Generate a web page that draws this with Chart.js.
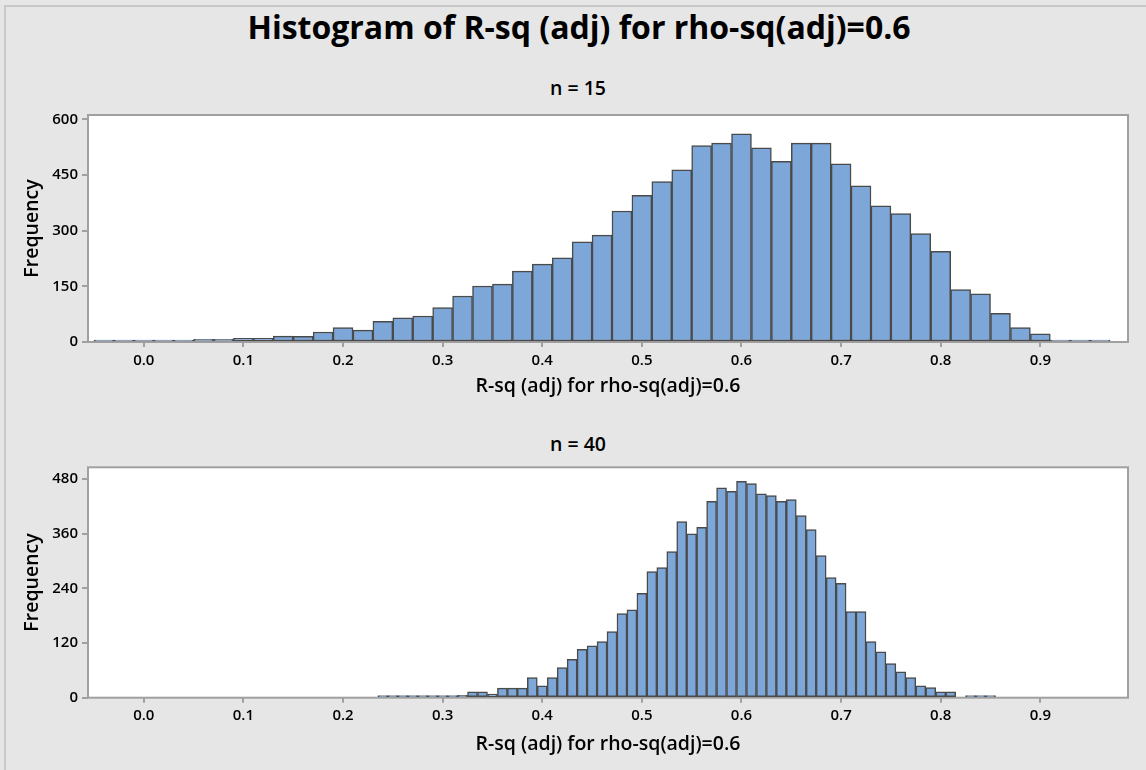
<!DOCTYPE html>
<html lang="en">
<head>
  <meta charset="UTF-8" />
  <title>Histogram of R-sq (adj)</title>
  <script src="https://cdn.jsdelivr.net/npm/chart.js"></script>
  <style>
    html, body { margin: 0; padding: 0; }
    body { width: 1146px; height: 770px; background: #e6e6e6; position: relative; overflow: hidden; font-family: 'Open Sans', 'Noto Sans', sans-serif; }
    .frame { position: absolute; left: 4px; top: 5px; right: 0; bottom: 0; border-left: 2px solid #c8c8c8; border-top: 2px solid #c8c8c8; }
    h1 { position: absolute; left: 12px; width: 1134px; top: 6px; margin: 0; text-align: center; font-size: 32px; font-weight: 700; line-height: 42px; color: #000; }
    .sub { position: absolute; left: 478px; width: 200px; margin: 0; text-align: center; font-size: 19.5px; font-weight: 600; line-height: 24px; color: #000; }
    .panel { position: absolute; left: 0; }
  </style>
</head>
<body>
  <div class="frame"></div>
  <h1>Histogram of R-sq (adj) for rho-sq(adj)=0.6</h1>
  <div class="sub" style="top:76px">n = 15</div>
  <div class="sub" style="top:432px">n = 40</div>
  <canvas id="n15" class="panel" width="1146" height="335" style="top:70px"></canvas>
  <canvas id="n40" class="panel" width="1146" height="343" style="top:420px"></canvas>

  <script>
    // bin midpoints and counts
    const binsN15 = [-0.04, -0.02, 0.00, 0.02, 0.04, 0.06, 0.08, 0.10, 0.12, 0.14, 0.16, 0.18, 0.20, 0.22, 0.24, 0.26, 0.28,
      0.30, 0.32, 0.34, 0.36, 0.38, 0.40, 0.42, 0.44, 0.46, 0.48, 0.50, 0.52, 0.54, 0.56, 0.58, 0.60, 0.62, 0.64,
      0.66, 0.68, 0.70, 0.72, 0.74, 0.76, 0.78, 0.80, 0.82, 0.84, 0.86, 0.88, 0.90, 0.92, 0.94, 0.96];
    const countsN15 = [1, 1, 1, 1, 1, 7, 7, 10, 10, 16, 15, 27, 39, 32, 56, 65, 70,
      93, 124, 151, 156, 191, 210, 227, 270, 288, 353, 395, 432, 464, 529, 536, 561, 523, 487,
      536, 536, 480, 421, 367, 346, 292, 244, 141, 130, 77, 39, 22, 5, 5, 1];

    const binsN40 = [0.24, 0.25, 0.26, 0.27, 0.28, 0.29, 0.30, 0.31, 0.32, 0.33, 0.34, 0.35, 0.36, 0.37, 0.38, 0.39,
      0.40, 0.41, 0.42, 0.43, 0.44, 0.45, 0.46, 0.47, 0.48, 0.49, 0.50, 0.51, 0.52, 0.53, 0.54, 0.55, 0.56, 0.57,
      0.58, 0.59, 0.60, 0.61, 0.62, 0.63, 0.64, 0.65, 0.66, 0.67, 0.68, 0.69, 0.70, 0.71, 0.72, 0.73, 0.74, 0.75,
      0.76, 0.77, 0.78, 0.79, 0.80, 0.81, 0.82, 0.83, 0.84, 0.85];
    const countsN40 = [1, 1, 1, 1, 4, 4, 4, 4, 5, 13, 13, 8, 21, 21, 21, 44,
      26, 44, 66, 84, 106, 114, 123, 145, 185, 193, 229, 277, 286, 321, 387, 360, 374, 431,
      461, 453, 475, 470, 448, 444, 431, 435, 400, 369, 312, 264, 251, 189, 189, 123, 101, 75,
      57, 44, 26, 22, 13, 13, null, 4, 1, 1];

    const xTicks = [0.0, 0.1, 0.2, 0.3, 0.4, 0.5, 0.6, 0.7, 0.8, 0.9];
    const yTicksN15 = [0, 150, 300, 450, 600];
    const yTicksN40 = [0, 120, 240, 360, 480];
    const xLabel = 'R-sq (adj) for rho-sq(adj)=0.6';

    const FAMILY = "'Open Sans', 'Noto Sans', sans-serif";
    const AXIS_GREY = '#a0a0a0';
    const labelFont = { family: FAMILY, size: 19.5, weight: '600' };
    const tickFont = { family: FAMILY, size: 15, weight: '600' };

    // white plot box with grey frame
    const plotBox = {
      id: 'plotBox',
      beforeDraw(chart) {
        const a = chart.chartArea, ctx = chart.ctx;
        ctx.save();
        ctx.fillStyle = '#fff';
        ctx.fillRect(a.left, a.top, a.right - a.left, a.bottom - a.top);
        ctx.restore();
      },
      beforeDatasetsDraw(chart) {
        const a = chart.chartArea, ctx = chart.ctx;
        ctx.save();
        ctx.strokeStyle = AXIS_GREY;
        ctx.lineWidth = 2;
        ctx.strokeRect(a.left, a.top, a.right - a.left, a.bottom - a.top);
        ctx.restore();
      }
    };

    function histogram(id, bins, counts, yTicks, yMax, topPad, xHeight) {
      return new Chart(document.getElementById(id), {
        type: 'bar',
        data: {
          datasets: [{
            data: bins.map((b, i) => ({ x: b, y: counts[i] })),
            backgroundColor: '#7da7d9',
            borderColor: '#4a4a4a',
            borderWidth: 1.5,
            borderSkipped: false,
            barPercentage: 1,
            categoryPercentage: 1,
            minBarLength: 2
          }]
        },
        options: {
          responsive: false,
          animation: false,
          layout: { padding: { left: 0, right: 18, top: topPad, bottom: 0 } },
          plugins: {
            legend: { display: false },
            tooltip: { enabled: false }
          },
          scales: {
            x: {
              type: 'linear',
              min: -0.056,
              max: 0.988,
              offset: false,
              afterBuildTicks: s => { s.ticks = xTicks.map(v => ({ value: v })); },
              afterFit: s => { s.height = xHeight; },
              ticks: {
                color: '#000',
                font: tickFont,
                padding: 4.5,
                maxRotation: 0,
                autoSkip: false,
                callback: v => v.toFixed(1)
              },
              grid: { offset: false, drawOnChartArea: false, tickLength: 5, color: AXIS_GREY, lineWidth: 2 },
              border: { display: false },
              title: {
                display: true,
                text: xLabel,
                color: '#000',
                font: labelFont,
                padding: { top: 0, bottom: 7.3 }
              }
            },
            y: {
              min: 0,
              max: yMax,
              afterBuildTicks: s => { s.ticks = yTicks.map(v => ({ value: v })); },
              afterFit: s => { s.width = 88; },
              ticks: {
                color: '#000',
                font: tickFont,
                padding: 4
              },
              grid: { drawOnChartArea: false, tickLength: 6, color: AXIS_GREY, lineWidth: 2 },
              border: { display: false },
              title: {
                display: true,
                text: 'Frequency',
                color: '#000',
                font: labelFont,
                padding: { top: 20.3, bottom: 0 }
              }
            }
          }
        },
        plugins: [plotBox]
      });
    }

    histogram('n15', binsN15, countsN15, yTicksN15, 611.6, 45, 63);
    histogram('n40', binsN40, countsN40, yTicksN40, 506, 47.3, 65.3);
  </script>
</body>
</html>
